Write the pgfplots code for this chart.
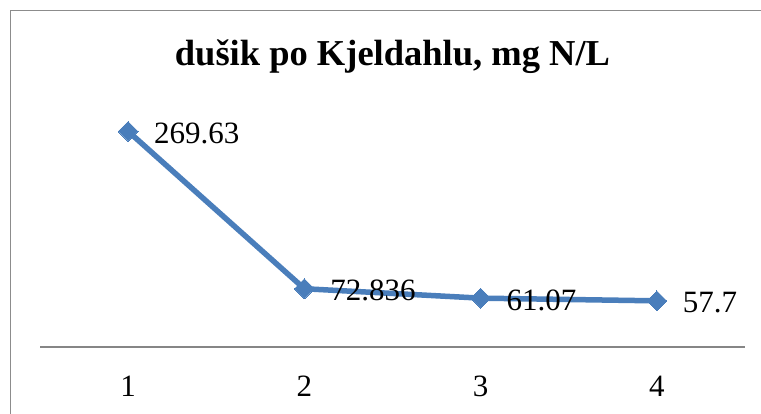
\documentclass[border=0pt]{standalone}
\usepackage{pgfplots}
\pgfplotsset{compat=1.18}
\usepackage{fontspec}
\setmainfont{Liberation Serif}
\definecolor{lineblue}{RGB}{74,126,187}
\definecolor{axgray}{RGB}{134,134,134}
\definecolor{framegray}{RGB}{140,140,140}
\begin{document}
\begin{tikzpicture}
\useasboundingbox (-40bp,-67bp) rectangle (721bp,347bp);
\fill[white] (-40bp,-67bp) rectangle (721bp,347bp);
\draw[framegray, line width=1.6bp] (-29.5bp,-80bp) -- (-29.5bp,336.5bp) -- (740bp,336.5bp);
\begin{axis}[
  scale only axis,
  width=705bp, height=240bp,
  xmin=0.5, xmax=4.5, ymin=0, ymax=300,
  axis lines=none,
  xtick=\empty, ytick=\empty,
  clip=false,
]
\draw[axgray, line width=1.5bp] (axis cs:0.5,0) -- (axis cs:4.5,0);
\addplot[lineblue, line width=5.5bp, mark=square*, mark size=7bp,
  mark options={rotate=45, solid, fill=lineblue, draw=lineblue, line width=0pt},
  nodes near coords,
  point meta=explicit symbolic,
  every node near coord/.style={anchor=base west, inner sep=0pt, xshift=26bp, yshift=-12bp, font=\fontsize{31bp}{31bp}\selectfont, text=black},
] table[meta=label] {
x y label
1 269.63 269.63
2 72.836 72.836
3 61.07 61.07
4 57.7 57.7
};
\foreach \i in {1,2,3,4} {
  \edef\tmp{\noexpand\node[anchor=base, inner sep=0pt, font=\noexpand\fontsize{31bp}{31bp}\noexpand\selectfont] at (axis cs:\i,0) [yshift=-49bp] {\i};}
  \tmp
}
\end{axis}
\node[anchor=base, inner sep=0pt, font=\fontsize{36.5bp}{36.5bp}\selectfont\bfseries] at (352.5bp,281bp) {dušik po Kjeldahlu, mg N/L};
\end{tikzpicture}
\end{document}
